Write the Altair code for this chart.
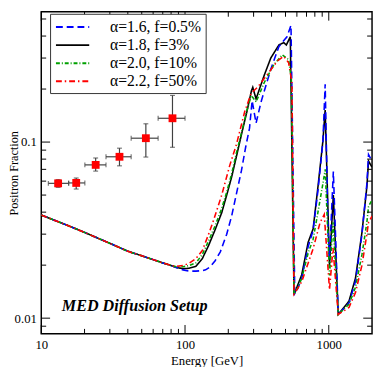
import altair as alt
import pandas as pd

# ---------------- data ----------------
E_common = [10, 15, 20, 30, 40, 50, 60, 70, 80]
F_common = [0.0385, 0.0338, 0.0307, 0.0266, 0.0240, 0.0226, 0.0215, 0.0206, 0.0199]

E_a16 = [87, 97, 107, 119, 132, 139, 150, 162, 176, 195, 211, 228, 247, 265, 281, 293, 312, 338, 395, 450, 512, 546,
         580, 610, 648, 719, 778, 841, 910, 944, 990, 1012, 1076, 1164, 1383, 1535, 1702, 1841, 1891, 2000]
F_a16 = [0.0194, 0.0188, 0.0185, 0.0185, 0.0186, 0.0188, 0.0196, 0.0212, 0.0238, 0.0300, 0.0380, 0.051, 0.069, 0.095,
         0.120, 0.172, 0.128, 0.169, 0.259, 0.349, 0.396, 0.460,
         0.0138, 0.0148, 0.0168, 0.0255, 0.0315, 0.053, 0.100, 0.213, 0.030, 0.022, 0.068, 0.0105, 0.0122, 0.0162,
         0.030, 0.058, 0.085, 0.078]

E_a18 = [87, 97, 107, 119, 132, 146, 162, 180, 195, 211, 228, 247, 270, 290, 296, 312, 356, 395, 450, 486, 507, 540,
         573, 610, 648, 719, 778, 841, 910, 944, 1012, 1076, 1164, 1383, 1535, 1702, 1841, 1891, 2000]
F_a18 = [0.0194, 0.0191, 0.0192, 0.0197, 0.0218, 0.0259, 0.0318, 0.0397, 0.050, 0.0633, 0.083, 0.1104, 0.150, 0.196,
         0.2046, 0.176, 0.240, 0.300, 0.356, 0.367, 0.356, 0.396,
         0.0136, 0.0155, 0.0176, 0.0270, 0.0321, 0.0557, 0.1013, 0.152, 0.020, 0.050, 0.0105, 0.0125, 0.0169,
         0.0307, 0.0557, 0.078, 0.072]

E_a20 = [87, 97, 107, 119, 132, 146, 162, 180, 195, 211, 228, 247, 270, 289, 312, 356, 416, 474, 526, 549,
         573, 610, 648, 719, 778, 841, 910, 945, 1012, 1070, 1164, 1383, 1535, 1702, 1841, 1891, 2000]
F_a20 = [0.0196, 0.0196, 0.0199, 0.0206, 0.0230, 0.0275, 0.0335, 0.0420, 0.052, 0.0660, 0.087, 0.113, 0.152, 0.184,
         0.169, 0.218, 0.276, 0.313, 0.294, 0.2275,
         0.0137, 0.0150, 0.0168, 0.0235, 0.028, 0.040, 0.058, 0.070, 0.0175, 0.035, 0.0105, 0.0120, 0.0150,
         0.023, 0.035, 0.043, 0.047]

E_a22 = [87, 97, 107, 119, 132, 146, 158, 180, 205, 228, 260, 289, 320, 375, 438, 486, 526, 554,
         573, 610, 648, 778, 870, 930, 1012, 1070, 1164, 1383, 1535, 1702, 1841, 1891, 2000]
F_a22 = [0.0197, 0.0199, 0.0205, 0.0218, 0.0242, 0.0300, 0.0360, 0.0500, 0.074, 0.0971, 0.1486, 0.190, 0.205, 0.243,
         0.288, 0.307, 0.282, 0.218,
         0.0137, 0.0148, 0.0161, 0.0248, 0.0349, 0.0388, 0.0145, 0.025, 0.0105, 0.0115, 0.0140, 0.020, 0.030,
         0.035, 0.038]

series_names = ["α=1.6, f=0.5%", "α=1.8, f=3%", "α=2.0, f=10%", "α=2.2, f=50%"]
series_colors = ["#0000ff", "#000000", "#00a000", "#ff0000"]
series_dashes = [[7, 4], [1, 0], [4, 2, 1, 2], [6, 3, 1.5, 3]]

pam_E = [13.1, 17.5, 23.9, 35.0, 53.4, 81.8]
pam_F = [0.0583, 0.0586, 0.0742, 0.0825, 0.1052, 0.1365]
pam_Elo = [11.2, 15.5, 20.1, 28.2, 42.2, 65.0]
pam_Ehi = [15.5, 20.1, 28.2, 42.2, 65.0, 100.0]
pam_Flo = [0.0553, 0.0541, 0.0684, 0.0733, 0.0822, 0.0934]
pam_Fhi = [0.0612, 0.0625, 0.0812, 0.0923, 0.127, 0.184]

x_major = [10, 100, 1000]
x_minor = [20, 30, 40, 50, 60, 70, 80, 90, 200, 300, 400, 500, 600, 700, 800, 900]
y_major = [0.01, 0.1]
y_minor = [0.009, 0.02, 0.03, 0.04, 0.05, 0.06, 0.07, 0.08, 0.09, 0.2, 0.3, 0.4, 0.5]

# ---------------- build ----------------
W, H = 338, 329
FONT = "'Liberation Serif', 'DejaVu Serif', 'Times New Roman', serif"

rows = []
order = [1, 0, 2, 3]
tails = {0: (E_a16, F_a16), 1: (E_a18, F_a18), 2: (E_a20, F_a20), 3: (E_a22, F_a22)}
for k in order:
    Es, Fs = tails[k]
    for e, f in zip(E_common + Es, F_common + Fs):
        rows.append({"E": e, "F": f, "series": series_names[k], "ord": order.index(k)})
lines_df = pd.DataFrame(rows)

pam_df = pd.DataFrame({"E": pam_E, "F": pam_F, "Elo": pam_Elo, "Ehi": pam_Ehi,
                       "Flo": pam_Flo, "Fhi": pam_Fhi})

xscale = alt.Scale(type="log", domain=[10, 2000], nice=False)
yscale = alt.Scale(type="log", domain=[0.00815, 0.549], nice=False)

xaxis = alt.Axis(values=x_major, format="~g", ticks=False, tickSize=0, domain=False, grid=False,
                 labelFont=FONT, labelFontSize=13, labelColor="black", labelPadding=5,
                 title="Energy [GeV]", titleFont=FONT, titleFontSize=13, titleFontWeight="normal",
                 titleColor="black", titlePadding=3, labelFlush=False)
yaxis = alt.Axis(values=y_major, format="~g", ticks=False, tickSize=0, domain=False, grid=False,
                 labelFont=FONT, labelFontSize=13, labelColor="black", labelPadding=5,
                 title="Positron Fraction", titleFont=FONT, titleFontSize=12.5, titleFontWeight="normal",
                 titleColor="black", titleX=-21, titleY=H / 2, labelFlush=False)


def X(field):
    return alt.X(field, scale=xscale, axis=xaxis, title="Energy [GeV]")


def Y(field):
    return alt.Y(field, scale=yscale, axis=yaxis, title="Positron Fraction")


lines = alt.Chart(lines_df).mark_line(strokeWidth=1.6, clip=True).encode(
    x=X("E:Q"),
    y=Y("F:Q"),
    color=alt.Color("series:N", scale=alt.Scale(domain=series_names, range=series_colors),
                    legend=alt.Legend(title=None)),
    strokeDash=alt.StrokeDash("series:N", scale=alt.Scale(domain=series_names, range=series_dashes),
                              legend=alt.Legend(title=None)),
    order="ord:Q",
)

err_color = "#404040"
xerr = alt.Chart(pam_df).mark_rule(color=err_color, strokeWidth=1.2).encode(
    x=X("Elo:Q"), x2="Ehi:Q", y=Y("F:Q"))
yerr = alt.Chart(pam_df).mark_rule(color=err_color, strokeWidth=1.2).encode(
    x=X("E:Q"), y=Y("Flo:Q"), y2="Fhi:Q")
cap_lo = alt.Chart(pam_df).mark_tick(color=err_color, orient="horizontal", size=5, thickness=1.2).encode(
    x=X("E:Q"), y=Y("Flo:Q"))
cap_hi = alt.Chart(pam_df).mark_tick(color=err_color, orient="horizontal", size=5, thickness=1.2).encode(
    x=X("E:Q"), y=Y("Fhi:Q"))
cap_l = alt.Chart(pam_df).mark_tick(color=err_color, orient="vertical", size=5, thickness=1.2).encode(
    x=X("Elo:Q"), y=Y("F:Q"))
cap_r = alt.Chart(pam_df).mark_tick(color=err_color, orient="vertical", size=5, thickness=1.2).encode(
    x=X("Ehi:Q"), y=Y("F:Q"))
pts = alt.Chart(pam_df).mark_point(shape="square", filled=True, color="#ff0000", size=64, opacity=1).encode(
    x=X("E:Q"), y=Y("F:Q"))


def xt(vals, y0, y1):
    return alt.Chart(pd.DataFrame({"E": vals})).mark_rule(color="black", strokeWidth=1).encode(
        x=X("E:Q"), y=alt.value(y0), y2=alt.value(y1))


def yt(vals, x0, x1):
    return alt.Chart(pd.DataFrame({"F": vals})).mark_rule(color="black", strokeWidth=1).encode(
        y=Y("F:Q"), x=alt.value(x0), x2=alt.value(x1))


ticks = [
    xt(x_major, H, H - 9), xt(x_minor, H, H - 5), xt(x_major, 0, 9), xt(x_minor, 0, 5),
    yt(y_major, 0, 9), yt(y_minor, 0, 5), yt(y_major, W, W - 9), yt(y_minor, W, W - 5),
]

label = alt.Chart(pd.DataFrame({"t": ["MED Diffusion Setup"]})).mark_text(
    font=FONT, fontSize=16.5, fontStyle="italic", fontWeight="bold", align="left", baseline="middle",
    color="black").encode(text="t:N", x=alt.value(21), y=alt.value(301))

chart = alt.layer(lines, xerr, yerr, cap_lo, cap_hi, cap_l, cap_r, pts, label, *ticks).properties(
    width=W, height=H,
    autosize=alt.AutoSizeParams(type="none"),
    padding={"left": 34, "top": 0, "right": 2, "bottom": 30},
).configure(font=FONT).configure_view(stroke="black", strokeWidth=1.5).configure_axis(
    labelFont=FONT, titleFont=FONT, titleFontWeight="normal", labelColor="black", titleColor="black",
).configure_legend(
    orient="none", legendX=9, legendY=2, strokeColor="#333333", fillColor="white", padding=4,
    labelFont=FONT, labelFontSize=16, labelColor="black", labelOffset=28.7, rowPadding=0.5,
    symbolType="M-2,0H2", symbolSize=289, symbolStrokeWidth=2, symbolOffset=9.5,
)

chart.save("out.html", embed_options={"renderer": "svg", "actions": False})
